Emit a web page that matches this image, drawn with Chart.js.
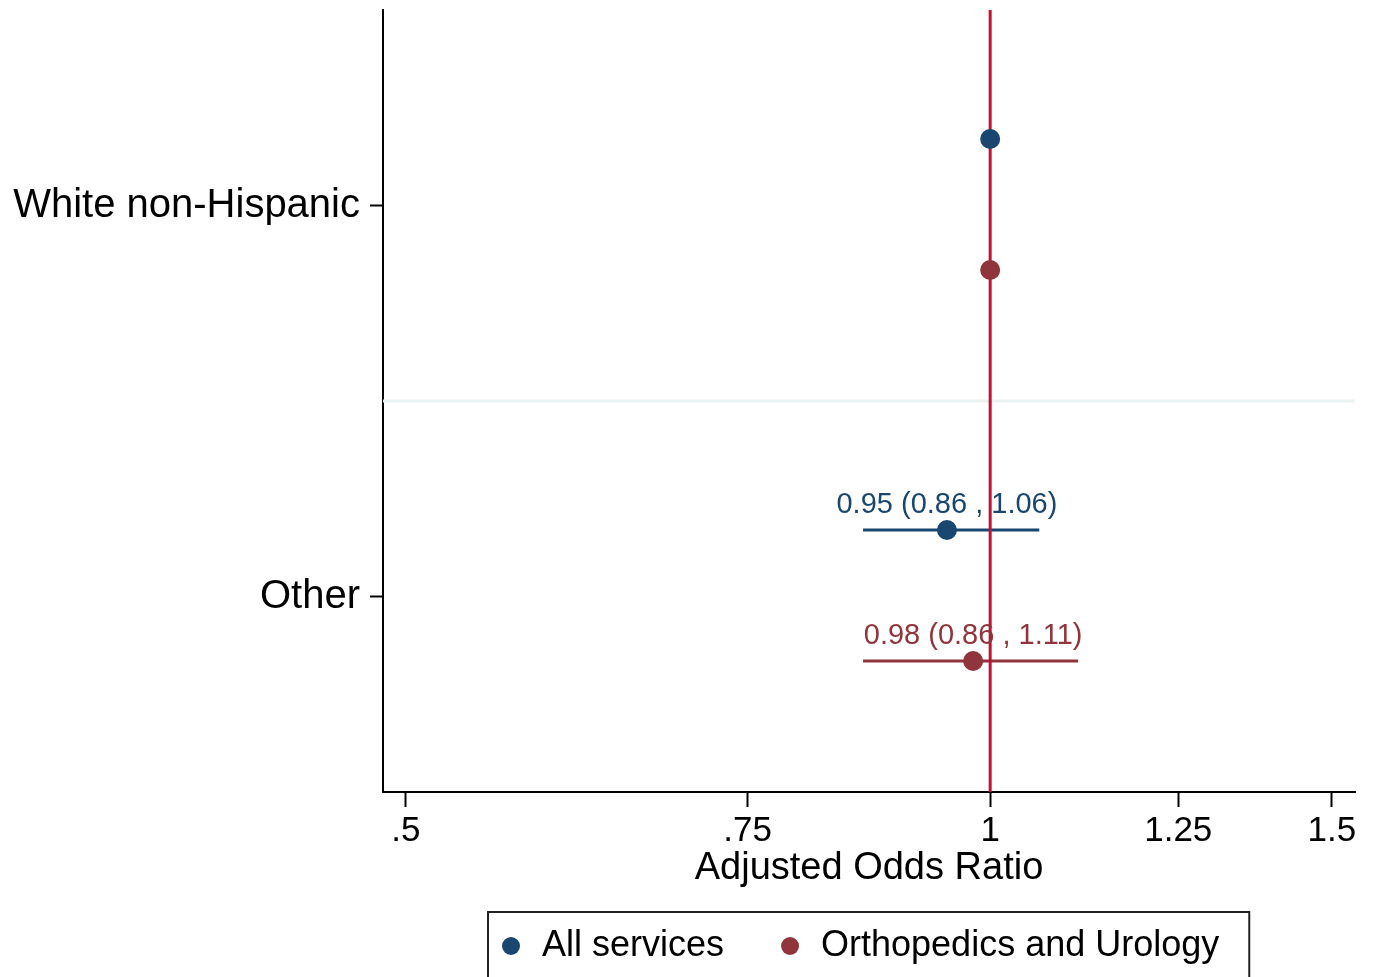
<!DOCTYPE html>
<html>
<head>
<meta charset="utf-8">
<title>Adjusted Odds Ratio</title>
<script src="https://cdn.jsdelivr.net/npm/chart.js@4"></script>
<style>
  body { margin: 0; background: #fff; }
  #wrap { width: 1376px; height: 977px; }
</style>
</head>
<body>
<div id="wrap"><canvas id="forest" width="1376" height="977"></canvas></div>
<script>
var categories = ["White non-Hispanic", "Other"];
var seriesNames = ["All services", "Orthopedics and Urology"];
var allOR = [1, 0.95];
var allLo = [null, 0.86];
var allHi = [null, 1.06];
var orthoOR = [1, 0.98];
var orthoLo = [null, 0.86];
var orthoHi = [null, 1.11];
var xTicks = [0.5, 0.75, 1, 1.25, 1.5];
var xTickLabels = [".5", ".75", "1", "1.25", "1.5"];

var FONT = "'Liberation Sans', Arial, Helvetica, sans-serif";
var blue = "#1a476f", red = "#90353b", refRed = "#c40f36";

// category i sits on y = 2*i+1, the two series just above / below it
var offsets = [-0.34, 0.33];

var series = [
    {name: seriesNames[0], or: allOR, lo: allLo, hi: allHi, color: blue},
    {name: seriesNames[1], or: orthoOR, lo: orthoLo, hi: orthoHi, color: red}
];

var datasets = [];
series.forEach(function(s, k) {
    s.or.forEach(function(v, i) {
        if (s.lo[i] == null) return;
        var y = 2 * i + 1 + offsets[k];
        datasets.push({
            type: 'line',
            data: [{x: s.lo[i], y: y}, {x: s.hi[i], y: y}],
            borderColor: s.color,
            borderWidth: 3,
            pointRadius: 0,
            order: 3
        });
    });
    datasets.push({
        type: 'scatter',
        label: s.name,
        isPoints: true,
        data: s.or.map(function(v, i) {
            return {x: v, y: 2 * i + 1 + offsets[k], lo: s.lo[i], hi: s.hi[i]};
        }),
        backgroundColor: s.color,
        borderWidth: 0,
        pointRadius: 10,
        pointHoverRadius: 10,
        order: 1
    });
});
// null line at OR = 1
datasets.push({
    type: 'line',
    data: [{x: 1, y: 0}, {x: 1, y: 4}],
    borderColor: refRed,
    borderWidth: 3,
    pointRadius: 0,
    order: 2
});

var separator = {
    id: 'separator',
    beforeDatasetsDraw: function(chart) {
        var ctx = chart.ctx, a = chart.chartArea;
        var y = chart.scales.y.getPixelForValue(2);
        ctx.save();
        ctx.strokeStyle = '#e9f1f1';
        ctx.lineWidth = 3;
        ctx.beginPath();
        ctx.moveTo(a.left, y);
        ctx.lineTo(a.right, y);
        ctx.stroke();
        ctx.restore();
    }
};

var ciLabels = {
    id: 'ciLabels',
    afterDatasetsDraw: function(chart) {
        var ctx = chart.ctx;
        chart.data.datasets.forEach(function(ds, di) {
            if (!ds.isPoints) return;
            var meta = chart.getDatasetMeta(di);
            meta.data.forEach(function(pt, i) {
                var d = ds.data[i];
                if (d.lo == null) return;
                ctx.save();
                ctx.font = '29px ' + FONT;
                ctx.fillStyle = ds.backgroundColor;
                ctx.textAlign = 'center';
                ctx.textBaseline = 'middle';
                ctx.fillText(d.x.toFixed(2) + ' (' + d.lo.toFixed(2) + ' , ' + d.hi.toFixed(2) + ')', pt.x, pt.y - 25);
                ctx.restore();
            });
        });
    }
};

var boxLegend = {
    id: 'boxLegend',
    afterDraw: function(chart) {
        var ctx = chart.ctx, a = chart.chartArea;
        var r = 9, gapDot = 22, gapItem = 57, padL = 14, padR = 30;
        ctx.save();
        ctx.font = '36px ' + FONT;
        var widths = seriesNames.map(function(n) { return ctx.measureText(n).width; });
        var total = padL + padR + gapItem * (seriesNames.length - 1);
        widths.forEach(function(w) { total += 2 * r + gapDot + w; });
        var left = Math.round((a.left + a.right) / 2 - total / 2);
        var top = 912, cy = 946;
        ctx.strokeStyle = '#222';
        ctx.lineWidth = 2;
        ctx.strokeRect(left, top, total, 100);
        var x = left + padL;
        series.forEach(function(s, k) {
            ctx.fillStyle = s.color;
            ctx.beginPath();
            ctx.arc(x + r, cy, r, 0, Math.PI * 2);
            ctx.fill();
            x += 2 * r + gapDot;
            ctx.fillStyle = '#000';
            ctx.textAlign = 'left';
            ctx.textBaseline = 'middle';
            ctx.fillText(s.name, x, cy);
            x += widths[k] + gapItem;
        });
        ctx.restore();
    }
};

new Chart(document.getElementById('forest').getContext('2d'), {
    type: 'scatter',
    data: {datasets: datasets},
    options: {
        responsive: false,
        animation: false,
        events: [],
        layout: {padding: {left: 0, right: 21, top: 10, bottom: 86}},
        plugins: {
            legend: {display: false},
            tooltip: {enabled: false}
        },
        scales: {
            x: {
                type: 'logarithmic',
                min: 0.4866,
                max: 1.5416,
                afterBuildTicks: function(s) {
                    s.ticks = xTicks.map(function(v) { return {value: v}; });
                },
                afterFit: function(s) {
                    s.height = 99;
                    s.paddingLeft = 0;
                    s.paddingRight = 0;
                },
                ticks: {
                    callback: function(v, i) { return xTickLabels[i]; },
                    font: {size: 35, family: FONT},
                    color: '#000',
                    padding: 3,
                    maxRotation: 0,
                    autoSkip: false
                },
                grid: {drawOnChartArea: false, tickLength: 15, tickColor: '#000', tickWidth: 2},
                border: {color: '#000', width: 2},
                title: {
                    display: true,
                    text: 'Adjusted Odds Ratio',
                    font: {size: 38, family: FONT},
                    color: '#000',
                    padding: {top: 0, bottom: 0}
                }
            },
            y: {
                type: 'linear',
                min: 0,
                max: 4,
                reverse: true,
                afterBuildTicks: function(s) {
                    s.ticks = categories.map(function(c, i) { return {value: 2 * i + 1}; });
                },
                afterFit: function(s) {
                    s.width = 383;
                    s.paddingTop = 0;
                    s.paddingBottom = 0;
                },
                ticks: {
                    callback: function(v, i) { return categories[i]; },
                    font: {size: 40, family: FONT},
                    color: '#000',
                    padding: 10,
                    autoSkip: false
                },
                grid: {drawOnChartArea: false, tickLength: 13, tickColor: '#000', tickWidth: 2},
                border: {color: '#000', width: 2}
            }
        }
    },
    plugins: [separator, ciLabels, boxLegend]
});
</script>
</body>
</html>
